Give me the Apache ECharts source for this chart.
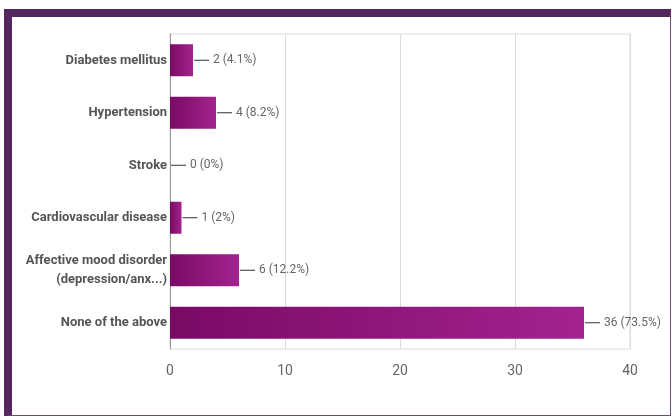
<!DOCTYPE html>
<html lang="en">
<head>
    <meta charset="UTF-8">
    <title>Conditions</title>
    <style type="text/css">
        *{
            margin: 0;
            padding: 0;
        }
        body{
            background: #fff;
        }
        #frame{
            position: absolute;
            left: 4px;
            top: 9px;
            width: 667px;
            height: 407px;
            box-sizing: border-box;
            border-left: 8px solid #55275f;
            border-top: 8px solid #55275f;
            border-right: 1px solid #6b4a74;
            border-bottom: 1px solid #6b4a74;
        }
        #main{
            width: 672px;
            height: 416px;
            position: absolute;
            left: 0;
            top: 0;
        }
    </style>
</head>
<body>
    <div id="frame"></div>
    <div id="main"></div>
    <script src="https://cdn.jsdelivr.net/npm/echarts@6/dist/echarts.min.js"></script>
    <script type="text/javascript">
        var categories = ['Diabetes mellitus', 'Hypertension', 'Stroke', 'Cardiovascular disease',
            'Affective mood disorder\n(depression/anx...)', 'None of the above'];
        var counts = [2, 4, 0, 1, 6, 36];
        var percents = ['4.1%', '8.2%', '0%', '2%', '12.2%', '73.5%'];
        var xTicks = [0, 10, 20, 30, 40];

        var fnt = "Roboto, 'Noto Sans', sans-serif";

        var myChart = echarts.init(document.getElementById('main'));

        var option = {
            animation: false,
            grid: {
                left: 170,
                right: 42,
                top: 34,
                bottom: 67,
                containLabel: false,
                outerBoundsMode: 'none',
                show: true,
                borderColor: '#dcdcdc',
                borderWidth: 1
            },
            xAxis: {
                type: 'value',
                min: xTicks[0],
                max: xTicks[xTicks.length - 1],
                interval: 10,
                axisLine: { show: false },
                axisTick: { show: false },
                splitLine: { lineStyle: { color: '#dcdcdc', width: 1 } },
                axisLabel: {
                    color: '#666',
                    fontFamily: fnt,
                    fontSize: 14,
                    margin: 15
                }
            },
            yAxis: {
                type: 'category',
                inverse: true,
                data: categories,
                axisLine: { show: true, lineStyle: { color: '#999', width: 1 } },
                axisTick: { show: false },
                axisLabel: {
                    color: '#555',
                    fontFamily: fnt,
                    fontWeight: 'bold',
                    fontSize: 13,
                    lineHeight: 19,
                    margin: 3,
                    align: 'right'
                }
            },
            series: [{
                type: 'bar',
                data: counts,
                barWidth: 32,
                itemStyle: {
                    color: new echarts.graphic.LinearGradient(0, 0, 1, 0, [
                        { offset: 0, color: '#790a64' },
                        { offset: 1, color: '#a3238f' }
                    ])
                },
                label: {
                    show: true,
                    position: 'right',
                    distance: 1,
                    formatter: function (p) {
                        return '{ln|}{t|' + counts[p.dataIndex] + ' (' + percents[p.dataIndex] + ')}';
                    },
                    rich: {
                        ln: {
                            width: 15,
                            height: 1,
                            backgroundColor: '#333',
                            verticalAlign: 'middle'
                        },
                        t: {
                            color: '#666',
                            fontFamily: fnt,
                            fontSize: 12,
                            padding: [0, 0, 0, 4],
                            verticalAlign: 'middle'
                        }
                    }
                }
            }]
        };

        myChart.setOption(option);
    </script>
</body>
</html>
